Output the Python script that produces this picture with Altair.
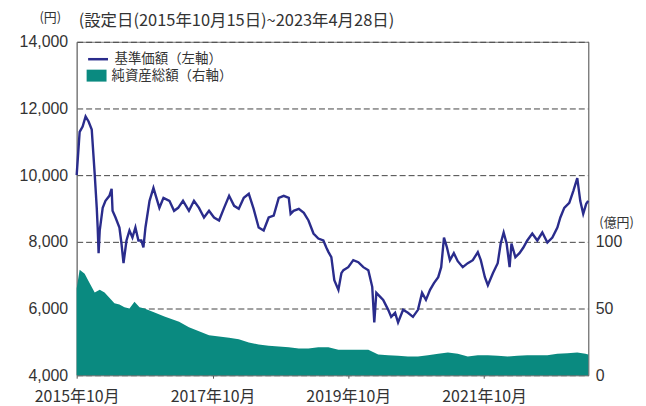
import altair as alt
import pandas as pd

# 基準価額（円）
nav_dates = ["2015-10-15","2015-10-31","2015-11-16","2015-12-02","2015-12-18","2016-01-04","2016-01-20","2016-01-31","2016-02-05","2016-02-10","2016-02-16","2016-03-03","2016-03-18","2016-04-08","2016-04-20","2016-04-25","2016-05-11","2016-06-01","2016-06-12","2016-06-23","2016-07-09","2016-07-25","2016-08-10","2016-08-26","2016-09-11","2016-09-27","2016-10-08","2016-10-19","2016-11-10","2016-12-01","2016-12-17","2017-01-02","2017-01-24","2017-02-25","2017-03-22","2017-04-13","2017-05-09","2017-06-10","2017-07-07","2017-08-03","2017-08-30","2017-09-26","2017-10-23","2017-11-19","2017-12-16","2018-01-12","2018-02-08","2018-03-05","2018-04-01","2018-04-28","2018-05-24","2018-06-20","2018-07-17","2018-08-13","2018-09-09","2018-10-06","2018-11-02","2018-11-29","2018-12-09","2018-12-25","2019-01-22","2019-02-18","2019-03-15","2019-04-11","2019-05-07","2019-06-03","2019-06-19","2019-06-30","2019-07-16","2019-08-01","2019-08-23","2019-09-08","2019-09-19","2019-10-15","2019-11-11","2019-12-08","2020-01-04","2020-01-31","2020-02-21","2020-03-03","2020-03-14","2020-04-04","2020-04-20","2020-05-17","2020-06-02","2020-06-23","2020-07-09","2020-08-05","2020-08-31","2020-09-27","2020-10-24","2020-11-15","2020-12-06","2020-12-28","2021-01-18","2021-02-10","2021-02-26","2021-03-13","2021-03-29","2021-04-14","2021-05-05","2021-05-26","2021-06-22","2021-07-19","2021-08-15","2021-09-11","2021-09-27","2021-10-19","2021-11-04","2021-12-01","2021-12-27","2022-01-12","2022-01-28","2022-02-13","2022-03-01","2022-03-11","2022-04-01","2022-04-23","2022-05-14","2022-06-04","2022-07-01","2022-07-28","2022-08-24","2022-09-20","2022-10-17","2022-11-13","2022-11-29","2022-12-20","2023-01-16","2023-02-07","2023-02-28","2023-03-16","2023-04-01","2023-04-17","2023-04-28"]
nav_values = [10000,11300,11460,11760,11610,11370,10030,9020,8430,7660,8340,9020,9230,9380,9590,8930,8730,8430,7950,7360,8040,8340,8130,8430,8040,8040,7830,8430,9230,9620,9320,9020,9320,9230,8930,9020,9230,8930,9230,9020,8730,8930,8730,8640,9020,9380,9080,8990,9320,9440,8990,8430,8340,8730,8790,9320,9380,9320,8840,8930,8990,8870,8640,8250,8100,8040,7830,7700,7540,6850,6560,7060,7150,7240,7450,7390,7240,7150,6650,5580,6470,6350,6260,5960,5750,5870,5580,5960,5870,5750,5960,6470,6260,6560,6760,6940,7240,8130,7830,7450,7660,7420,7240,7360,7450,7690,7450,6940,6700,7060,7360,7950,8280,7950,7240,7950,7540,7660,7830,8040,8250,8040,8280,7980,8130,8430,8730,9020,9170,9530,9910,9230,8840,9140,9230]

# 純資産総額（億円）
aum_dates = ["2015-10-15","2015-10-31","2015-11-27","2015-12-24","2016-01-20","2016-02-16","2016-03-13","2016-04-08","2016-05-05","2016-06-01","2016-06-28","2016-07-25","2016-08-21","2016-09-17","2016-10-14","2016-12-07","2017-01-29","2017-04-18","2017-06-10","2017-08-03","2017-09-26","2017-11-19","2018-01-12","2018-03-05","2018-04-28","2018-06-20","2018-08-13","2018-10-06","2018-11-29","2019-01-22","2019-03-15","2019-05-07","2019-06-30","2019-08-23","2019-10-15","2019-12-08","2020-01-31","2020-03-24","2020-05-17","2020-07-09","2020-08-31","2020-10-24","2020-12-17","2021-02-10","2021-04-03","2021-05-26","2021-07-19","2021-09-11","2021-11-04","2021-12-27","2022-02-19","2022-04-12","2022-06-04","2022-07-28","2022-09-20","2022-11-13","2023-01-06","2023-02-28","2023-04-13","2023-04-28"]
aum_values = [65,79,76,69,62,64,62,58,54,53,51,50,55,51,50,47,44,40,36,33,30,29,28,27,24.5,23,22,21.5,21,20,20,21,21,19,19,19,19,15.5,15,14.5,14,14,15,16,17,16,14,15,15,14.5,14,14.5,15,15,15,16,16.5,17,16,15.5]

left_ticks = [4000, 6000, 8000, 10000, 12000, 14000]
right_ticks = [0, 50, 100]
nav_label = "基準価額（左軸）"
aum_label = "純資産総額（右軸）"
title_text = "(設定日(2015年10月15日)~2023年4月28日)"

NAVY = "#2a2c8c"
TEAL = "#0a8a80"
TXT = "#333333"
FONT = "Liberation Sans, Noto Sans CJK JP, sans-serif"
JP = "Noto Sans CJK JP, sans-serif"

nav = pd.DataFrame({"date": nav_dates, "value": nav_values, "series": nav_label})
aum = pd.DataFrame({"date": aum_dates, "value": aum_values, "series": aum_label})

x_scale = alt.Scale(type="utc", domain=[alt.DateTime(year=2015, month=10, date=15, utc=True),
                                        alt.DateTime(year=2023, month=4, date=28, utc=True)])
x_axis = alt.Axis(
    values=[alt.DateTime(year=y, month=10, date=15, utc=True) for y in (2015, 2017, 2019, 2021)],
    labelExpr="utcFormat(datum.value, '%Y年%m月')",
    title=None, grid=False, ticks=True, tickSize=3, tickColor="#555",
    labelFont=JP, labelFontSize=16, labelColor=TXT, labelPadding=10,
    domainColor="#777", labelFlush=False,
)

area = alt.Chart(aum).mark_area(interpolate="linear").encode(
    x=alt.X("date:T", scale=x_scale, axis=x_axis),
    y=alt.Y("value:Q", scale=alt.Scale(domain=[0, 250], nice=False),
            axis=alt.Axis(orient="right", values=right_ticks, grid=False, ticks=False,
                          labelExpr="format(datum.value, 'd')",
                          labelFont=FONT, labelFontSize=16, labelColor=TXT, labelPadding=7,
                          domainColor="#777",
                          title="(億円)", titleAngle=0, titleX=28, titleY=182,
                          titleAlign="center", titleBaseline="middle",
                          titleFont=JP, titleFontSize=13, titleFontWeight="normal", titleColor=TXT)),
    fill=alt.Fill("series:N", scale=alt.Scale(range=[TEAL]),
                  legend=alt.Legend(orient="none", legendX=10, legendY=24, title=None,
                                    symbolType="M-1,-0.6H1V0.6H-1Z", symbolSize=400,
                                    symbolStrokeWidth=0, labelFont=JP, labelFontSize=13.5,
                                    labelColor=TXT, labelOffset=5, padding=0)),
)

line = alt.Chart(nav).mark_line(strokeWidth=2.4).encode(
    x=alt.X("date:T", scale=x_scale, axis=x_axis),
    y=alt.Y("value:Q", scale=alt.Scale(domain=[4000, 14000], nice=False),
            axis=alt.Axis(orient="left", values=left_ticks, labelExpr="format(datum.value, ',d')",
                          grid=True, gridDash=[6, 3], gridColor="#444", gridWidth=1, ticks=False,
                          labelFont=FONT, labelFontSize=16, labelColor=TXT, labelPadding=9,
                          domainColor="#777",
                          title="(円)", titleAngle=0, titleX=-27, titleY=-24,
                          titleAlign="center", titleBaseline="middle",
                          titleFont=JP, titleFontSize=13, titleFontWeight="normal", titleColor=TXT)),
    color=alt.Color("series:N", scale=alt.Scale(range=[NAVY]),
                    legend=alt.Legend(orient="none", legendX=10, legendY=6, title=None,
                                      symbolType="stroke", symbolSize=400, symbolStrokeWidth=2.5,
                                      labelFont=JP, labelFontSize=13.5, labelColor=TXT,
                                      labelOffset=5, padding=0)),
)

chart = alt.layer(area, line).resolve_scale(y="independent").properties(
    width=514, height=335,
    autosize=alt.AutoSizeParams(type="none"),
    padding={"left": 69, "top": 33, "right": 50, "bottom": 30},
    title=alt.TitleParams(title_text, anchor="start", frame="group", font=JP, fontSize=16.5,
                          fontWeight="normal", color=TXT, offset=9, dx=2, dy=27),
).configure_view(stroke="#777", strokeWidth=1)

chart.save("out.html", embed_options={"renderer": "svg", "actions": False})
